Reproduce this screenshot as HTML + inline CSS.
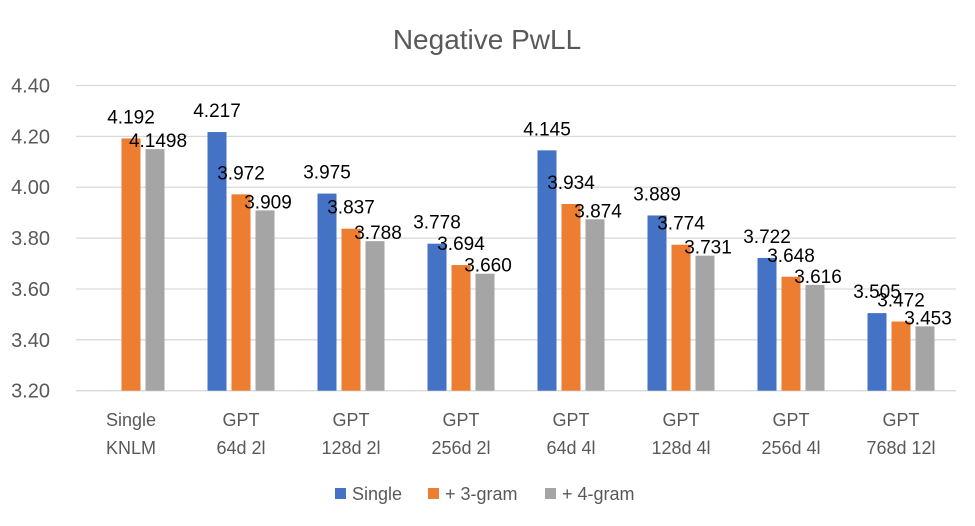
<!DOCTYPE html>
<html><head><meta charset="utf-8"><style>
body{margin:0;background:#fff;}
svg{display:block;font-family:"Liberation Sans",sans-serif;}
</style></head><body>
<svg id="c" width="975" height="526">
<text x="487" y="49" text-anchor="middle" font-size="28" fill="#595959">Negative PwLL</text>
<g id="grid"></g><g id="bars"></g><g id="labels"></g><g id="cats"></g>
<g>
<rect x="335" y="488" width="11" height="11" fill="#4472C4"/>
<text x="352" y="500" font-size="18" fill="#595959">Single</text>
<rect x="428" y="488" width="11" height="11" fill="#ED7D31"/>
<text x="445" y="500" font-size="18" fill="#595959">+ 3-gram</text>
<rect x="545" y="488" width="11" height="11" fill="#A5A5A5"/>
<text x="562" y="500" font-size="18" fill="#595959">+ 4-gram</text>
</g>
</svg>
<script>
const categories=[["Single","KNLM"],["GPT","64d 2l"],["GPT","128d 2l"],["GPT","256d 2l"],["GPT","64d 4l"],["GPT","128d 4l"],["GPT","256d 4l"],["GPT","768d 12l"]];
const single=[null,4.217,3.975,3.778,4.145,3.889,3.722,3.505];
const tri=[4.192,3.972,3.837,3.694,3.934,3.774,3.648,3.472];
const quad=[4.1498,3.909,3.788,3.660,3.874,3.731,3.616,3.453];
const singleLabels=["","4.217","3.975","3.778","4.145","3.889","3.722","3.505"];
const triLabels=["4.192","3.972","3.837","3.694","3.934","3.774","3.648","3.472"];
const quadLabels=["4.1498","3.909","3.788","3.660","3.874","3.731","3.616","3.453"];
const ticks=[3.2,3.4,3.6,3.8,4.0,4.2,4.4];
const NS="http://www.w3.org/2000/svg";
const L=76,R=956,T=85.5,B=390.7,ymin=3.2,ymax=4.4;
const y=v=>B-(v-ymin)/(ymax-ymin)*(B-T);
const band=(R-L)/categories.length;
const cx=i=>L+band*(i+0.5);
function mk(tag,parent,attrs){const e=document.createElementNS(NS,tag);for(const k in attrs)e.setAttribute(k,attrs[k]);document.getElementById(parent).appendChild(e);return e;}
ticks.forEach(t=>{
 const l=mk("line","grid",{x1:L,x2:R,y1:y(t),y2:y(t),stroke:"#D9D9D9","stroke-width":1.3});
 
 
 const tx=mk("text","grid",{x:50,y:y(t)+7,"text-anchor":"end","font-size":20,fill:"#595959"});
 tx.textContent=t.toFixed(2);
 
 
});
const series=[[single,singleLabels,"#4472C4",-24,22],[tri,triLabels,"#ED7D31",0,22],[quad,quadLabels,"#A5A5A5",24,9]];
const bw=19;
categories.forEach((c,i)=>{
 series.forEach(([vals,labs,col,off,lo],s)=>{
  const v=vals[i]; if(v==null)return;
  const x=cx(i)+off-bw/2;
  const r=mk("rect","bars",{x:x,y:y(v),width:bw,height:B-y(v),fill:col});
  
  
  const t=mk("text","labels",{x:cx(i)+off+(s==2?3:0),y:y(v)-lo+7,"text-anchor":"middle","font-size":19,fill:"#000"});
  t.textContent=labs[i];
  
  
 });
 c.forEach((line,j)=>{
  const t=mk("text","cats",{x:cx(i),y:426+j*28,"text-anchor":"middle","font-size":18,fill:"#595959"});
  t.textContent=line;
  
  
 });
});
</script>
</body></html>
